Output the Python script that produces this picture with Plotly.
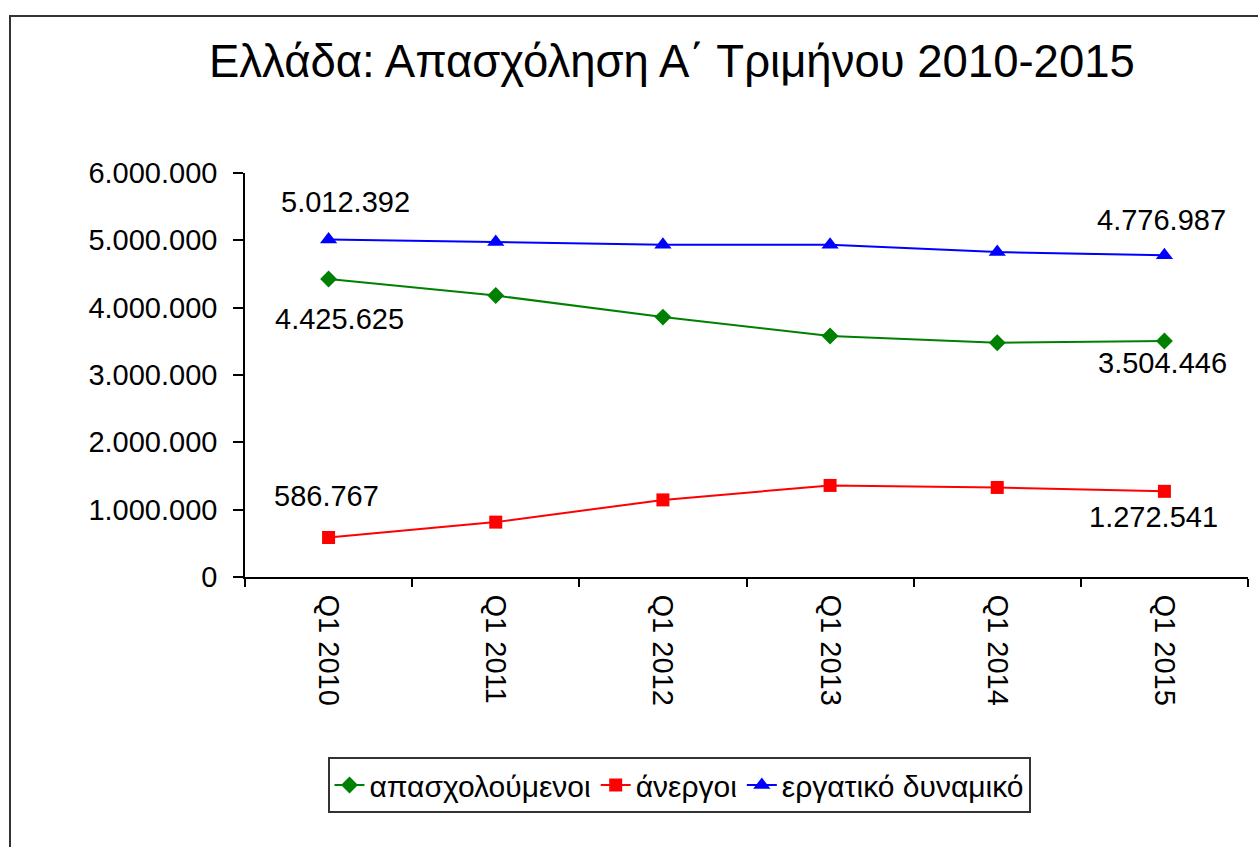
import plotly.graph_objects as go

categories = ["Q1 2010", "Q1 2011", "Q1 2012", "Q1 2013", "Q1 2014", "Q1 2015"]
employed = [4425625, 4180000, 3860000, 3580000, 3480000, 3504446]
unemployed = [586767, 815000, 1145000, 1360000, 1330000, 1272541]
labour_force = [5012392, 4975000, 4935000, 4935000, 4825000, 4776987]

series_names = ["απασχολούμενοι", "άνεργοι", "εργατικό δυναμικό"]
title_text = "Ελλάδα: Απασχόληση Α΄ Τριμήνου 2010-2015"
y_ticks = [0, 1000000, 2000000, 3000000, 4000000, 5000000, 6000000]

FONT = "Liberation Sans, Arial, sans-serif"
L, R, T, B = 245, 10, 173, 270
W, H = 1258, 847
PW = W - L - R
PH = H - T - B


def px_to_paper_x(px):
    return (px - L) / PW


def px_to_paper_y(py):
    return (H - B - py) / PH


def fmt(v):
    return f"{v:,}".replace(",", ".")


fig = go.Figure()
styles = [
    (employed, "#008000", "diamond", 13),
    (unemployed, "#FF0000", "square", 13),
    (labour_force, "#0000FF", "triangle-up", 15),
]
for name, (vals, col, sym, ms) in zip(series_names, styles):
    fig.add_trace(go.Scatter(
        x=categories, y=vals, name=name, mode="lines+markers",
        line=dict(color=col, width=2),
        marker=dict(symbol=sym, size=ms, color=col),
    ))

# data labels at first and last points: (series values, index, xshift, yshift)
label_specs = [
    (labour_force, 0, 17, 38),
    (employed, 0, 11, -40),
    (unemployed, 0, -2, 41),
    (labour_force, 5, -3, 35),
    (employed, 5, -2, -22),
    (unemployed, 5, -11, -26),
]
for vals, i, xs, ys in label_specs:
    fig.add_annotation(
        x=categories[i], y=vals[i], text=fmt(vals[i]), showarrow=False,
        xshift=xs, yshift=ys, font=dict(family=FONT, size=29, color="black"),
        xanchor="center", yanchor="middle",
    )

fig.add_annotation(
    x=px_to_paper_x(672), y=px_to_paper_y(62), xref="paper", yref="paper",
    text=title_text, showarrow=False, xanchor="center", yanchor="middle",
    font=dict(family=FONT, size=45.5, color="black"),
)

# outer chart border
fig.add_shape(
    type="rect", xref="paper", yref="paper",
    x0=px_to_paper_x(10), x1=px_to_paper_x(1300),
    y0=px_to_paper_y(900), y1=px_to_paper_y(16),
    line=dict(color="#333333", width=2), fillcolor="rgba(0,0,0,0)", layer="below",
)

fig.update_layout(
    width=W, height=H,
    margin=dict(l=L, r=R, t=T, b=B),
    paper_bgcolor="white", plot_bgcolor="white",
    separators=",.",
    font=dict(family=FONT, size=29, color="black"),
    showlegend=True,
    legend=dict(
        orientation="h", x=px_to_paper_x(679), y=px_to_paper_y(757),
        xanchor="center", yanchor="top",
        bordercolor="#333333", borderwidth=2, bgcolor="white",
        font=dict(family=FONT, size=30, color="black"),
        itemwidth=30, tracegroupgap=0,
    ),
    xaxis=dict(
        type="category", range=[-0.5, 5.5],
        showline=True, linecolor="black", linewidth=1.5,
        ticks="outside", tickson="boundaries", ticklen=8, tickcolor="black", tickwidth=1.5,
        tickangle=90, showgrid=False, zeroline=False, ticklabelstandoff=10,
        tickfont=dict(family=FONT, size=29, color="black"),
    ),
    yaxis=dict(
        range=[0, 6000000], tickvals=y_ticks, tickformat=",d",
        showline=True, linecolor="black", linewidth=1.5,
        ticks="outside", ticklen=10, tickcolor="black", tickwidth=1.5,
        showgrid=False, zeroline=False, ticklabelstandoff=10,
        tickfont=dict(family=FONT, size=29, color="black"),
    ),
)

fig.write_html(
    "out.html",
    config={"displayModeBar": False},
    post_script="document.body.style.margin='0';",
)
